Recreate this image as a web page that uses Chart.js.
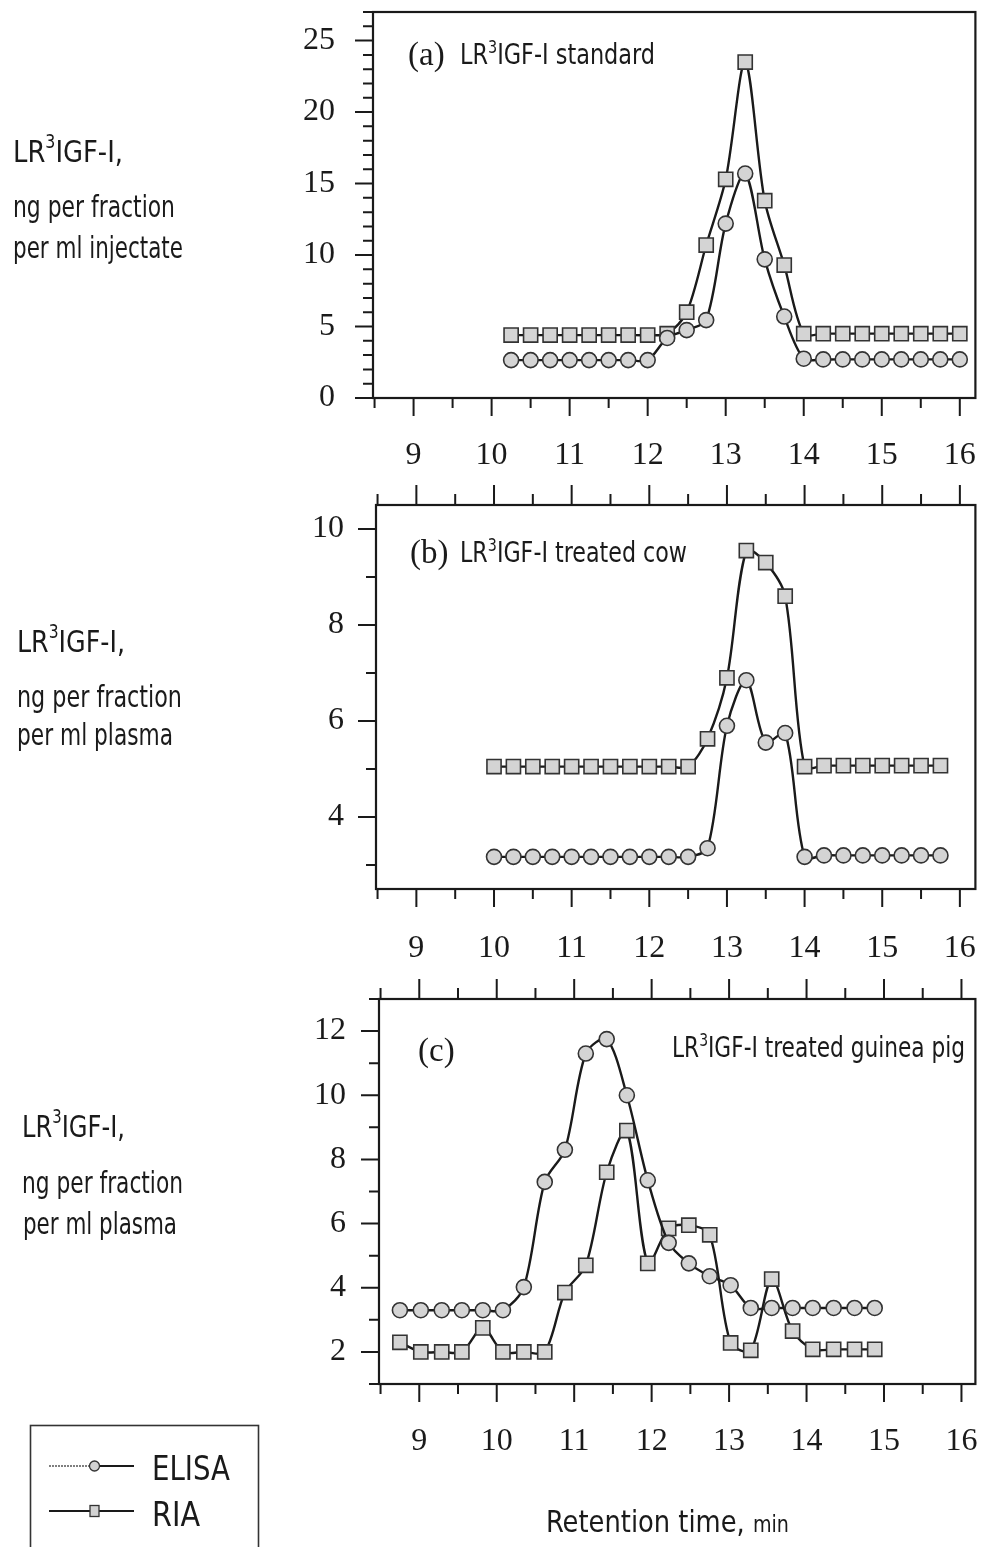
<!DOCTYPE html>
<html>
<head>
<meta charset="utf-8">
<script src="https://cdn.jsdelivr.net/npm/chart.js@4.4.1/dist/chart.umd.min.js"></script>
<style>
  body { margin: 0; background: #fff; }
  #page { position: relative; width: 987px; height: 1547px; overflow: hidden; }
  canvas { position: absolute; left: 200px; }
  svg { position: absolute; left: 0; top: 0; }
  .sans { font-family: "Liberation Sans Narrow", "DejaVu Sans Condensed", sans-serif; fill: #1a1a1a; }
  .serif { font-family: "Liberation Serif", serif; fill: #1a1a1a; }
</style>
</head>
<body>
<div id="page">
  <canvas id="chartA" width="787" height="480" style="top:0"></canvas>
  <canvas id="chartB" width="787" height="480" style="top:480px"></canvas>
  <canvas id="chartC" width="787" height="510" style="top:970px"></canvas>

  <svg width="987" height="1547">
    <!-- y axis titles -->
    <text class="sans" x="13" y="162" font-size="31" textLength="110" lengthAdjust="spacingAndGlyphs">LR<tspan dy="-14" font-size="19">3</tspan><tspan dy="14">IGF-I,</tspan></text>
    <text class="sans" x="13" y="217" font-size="30" textLength="162" lengthAdjust="spacingAndGlyphs">ng per fraction</text>
    <text class="sans" x="13" y="258" font-size="30" textLength="170" lengthAdjust="spacingAndGlyphs">per ml injectate</text>

    <text class="sans" x="17" y="652" font-size="31" textLength="108" lengthAdjust="spacingAndGlyphs">LR<tspan dy="-14" font-size="19">3</tspan><tspan dy="14">IGF-I,</tspan></text>
    <text class="sans" x="17" y="707" font-size="30" textLength="165" lengthAdjust="spacingAndGlyphs">ng per fraction</text>
    <text class="sans" x="17" y="745" font-size="30" textLength="156" lengthAdjust="spacingAndGlyphs">per ml plasma</text>

    <text class="sans" x="22" y="1137" font-size="31" textLength="103" lengthAdjust="spacingAndGlyphs">LR<tspan dy="-14" font-size="19">3</tspan><tspan dy="14">IGF-I,</tspan></text>
    <text class="sans" x="22" y="1193" font-size="30" textLength="161" lengthAdjust="spacingAndGlyphs">ng per fraction</text>
    <text class="sans" x="23" y="1234" font-size="30" textLength="154" lengthAdjust="spacingAndGlyphs">per ml plasma</text>

    <!-- panel tags -->
    <text class="serif" x="408" y="65" font-size="33">(a)</text>
    <text class="sans" x="460" y="64" font-size="28" textLength="195" lengthAdjust="spacingAndGlyphs">LR<tspan dy="-11" font-size="18">3</tspan><tspan dy="11">IGF-I standard</tspan></text>
    <text class="serif" x="410" y="563" font-size="33">(b)</text>
    <text class="sans" x="460" y="562" font-size="28" textLength="227" lengthAdjust="spacingAndGlyphs">LR<tspan dy="-11" font-size="18">3</tspan><tspan dy="11">IGF-I treated cow</tspan></text>
    <text class="serif" x="418" y="1061" font-size="33">(c)</text>
    <text class="sans" x="672" y="1057" font-size="28" textLength="293" lengthAdjust="spacingAndGlyphs">LR<tspan dy="-11" font-size="18">3</tspan><tspan dy="11">IGF-I treated guinea pig</tspan></text>

    <!-- x axis title -->
    <text class="sans" x="546" y="1532" font-size="31" textLength="243" lengthAdjust="spacingAndGlyphs">Retention time, <tspan font-size="23">min</tspan></text>

    <!-- legend -->
    <rect x="30.5" y="1425.5" width="228" height="150" fill="none" stroke="#333" stroke-width="1.6"/>
    <line x1="49" y1="1466" x2="90" y2="1466" stroke="#555" stroke-width="1.4" stroke-dasharray="2 1"/>
    <line x1="99" y1="1466" x2="134" y2="1466" stroke="#1a1a1a" stroke-width="2.2"/>
    <circle cx="94.5" cy="1466" r="5" fill="#d2d2d2" stroke="#333" stroke-width="1.3"/>
    <text class="sans" x="152" y="1480" font-size="34" textLength="78" lengthAdjust="spacingAndGlyphs">ELISA</text>
    <line x1="49" y1="1511" x2="134" y2="1511" stroke="#1a1a1a" stroke-width="2.2"/>
    <rect x="90" y="1505.5" width="9" height="11" fill="#d2d2d2" stroke="#333" stroke-width="1.3"/>
    <text class="sans" x="152" y="1526" font-size="34" textLength="48" lengthAdjust="spacingAndGlyphs">RIA</text>
  </svg>
</div>

<script>
// shared x ticks, retention time in min
const xMajor = [9, 10, 11, 12, 13, 14, 15, 16];
const xMinor = [8.5, 9.5, 10.5, 11.5, 12.5, 13.5, 14.5, 15.5];

// (a) LR3IGF-I standard
const timesA = [10.25, 10.5, 10.75, 11, 11.25, 11.5, 11.75, 12, 12.25, 12.5, 12.75, 13,
                13.25, 13.5, 13.75, 14, 14.25, 14.5, 14.75, 15, 15.25, 15.5, 15.75, 16];
const elisaA = [2.65, 2.65, 2.65, 2.65, 2.65, 2.65, 2.65, 2.65, 4.2, 4.75, 5.45, 12.2,
                15.7, 9.7, 5.7, 2.75, 2.7, 2.7, 2.7, 2.7, 2.7, 2.7, 2.7, 2.7];
const riaA = [4.4, 4.4, 4.4, 4.4, 4.4, 4.4, 4.4, 4.4, 4.5, 6.0, 10.7, 15.3,
              23.5, 13.8, 9.3, 4.5, 4.5, 4.5, 4.5, 4.5, 4.5, 4.5, 4.5, 4.5];
const yMajorA = [0, 5, 10, 15, 20, 25];
const yMinorA = [1, 2, 3, 4, 6, 7, 8, 9, 11, 12, 13, 14, 16, 17, 18, 19, 21, 22, 23, 24, 26, 27];

// (b) treated cow
const timesB = [10, 10.25, 10.5, 10.75, 11, 11.25, 11.5, 11.75, 12, 12.25, 12.5, 12.75,
                13, 13.25, 13.5, 13.75, 14, 14.25, 14.5, 14.75, 15, 15.25, 15.5, 15.75];
const elisaB = [3.17, 3.17, 3.17, 3.17, 3.17, 3.17, 3.17, 3.17, 3.17, 3.17, 3.17, 3.35,
                5.9, 6.85, 5.55, 5.75, 3.17, 3.2, 3.2, 3.2, 3.2, 3.2, 3.2, 3.2];
const riaB = [5.05, 5.05, 5.05, 5.05, 5.05, 5.05, 5.05, 5.05, 5.05, 5.05, 5.05, 5.63,
              6.9, 9.55, 9.3, 8.6, 5.05, 5.07, 5.07, 5.07, 5.07, 5.07, 5.07, 5.07];
const yMajorB = [4, 6, 8, 10];
const yMinorB = [3, 5, 7, 9];

// (c) treated guinea pig
const timesC = [8.75, 9.02, 9.29, 9.55, 9.82, 10.08, 10.35, 10.62, 10.88, 11.15, 11.42, 11.68,
                11.95, 12.22, 12.48, 12.75, 13.02, 13.28, 13.55, 13.82, 14.08, 14.35, 14.62, 14.88];
const elisaC = [3.3, 3.3, 3.3, 3.3, 3.3, 3.3, 4.02, 7.3, 8.3, 11.3, 11.75, 10.0,
                7.35, 5.4, 4.76, 4.36, 4.08, 3.37, 3.37, 3.37, 3.37, 3.37, 3.37, 3.37];
const riaC = [2.3, 2.0, 2.0, 2.0, 2.75, 2.0, 2.0, 2.0, 3.85, 4.7, 7.6, 8.9,
              4.76, 5.85, 5.95, 5.65, 2.28, 2.05, 4.27, 2.65, 2.08, 2.08, 2.08, 2.08];
const yMajorC = [2, 4, 6, 8, 10, 12];
const yMinorC = [1, 3, 5, 7, 9, 11, 13];

const ink = '#1a1a1a';
const markerFill = '#d4d4d4';

// box round the plot area plus outward tick marks (long on whole values, short between)
const frameTicks = {
  id: 'frameTicks',
  afterDraw(chart, args, opts) {
    const { ctx, chartArea: a } = chart;
    const x = chart.scales.x, y = chart.scales.y;
    ctx.save();
    ctx.strokeStyle = ink;
    ctx.lineWidth = 2;
    ctx.beginPath();
    const yTick = (v, len) => {
      const p = y.getPixelForValue(v);
      ctx.moveTo(a.left - len, p);
      ctx.lineTo(a.left, p);
    };
    const xTick = (v, y0, len) => {
      const p = x.getPixelForValue(v);
      ctx.moveTo(p, y0);
      ctx.lineTo(p, y0 + len);
    };
    opts.yMajor.forEach(v => yTick(v, 18));
    opts.yMinor.forEach(v => yTick(v, 10));
    xMajor.forEach(v => xTick(v, a.bottom, 18));
    xMinor.forEach(v => xTick(v, a.bottom, 10));
    if (opts.top) {
      xMajor.forEach(v => xTick(v, a.top, -20));
      xMinor.forEach(v => xTick(v, a.top, -11));
    }
    ctx.stroke();
    ctx.lineWidth = 2.2;
    ctx.strokeRect(a.left, a.top, a.right - a.left, a.bottom - a.top);
    ctx.restore();
  }
};

function drawPanel(id, times, elisa, ria, cfg) {
  const points = vals => times.map((t, i) => ({ x: t, y: vals[i] }));
  return new Chart(document.getElementById(id), {
    type: 'line',
    data: {
      datasets: [
        {
          label: 'ELISA',
          data: points(elisa),
          borderColor: ink,
          backgroundColor: markerFill,
          pointStyle: 'circle',
          pointRadius: 7.5,
          pointBackgroundColor: markerFill,
          pointBorderColor: '#333',
          pointBorderWidth: 1.6
        },
        {
          label: 'RIA',
          data: points(ria),
          borderColor: ink,
          backgroundColor: markerFill,
          pointStyle: 'rect',
          pointRadius: 10,
          pointBackgroundColor: markerFill,
          pointBorderColor: '#333',
          pointBorderWidth: 1.6
        }
      ]
    },
    options: {
      responsive: false,
      animation: false,
      devicePixelRatio: 1,
      layout: { padding: { top: cfg.top, right: cfg.right, left: 0, bottom: 0 } },
      elements: { line: { tension: 0.3, borderWidth: 2.4 } },
      plugins: {
        legend: { display: false },
        tooltip: { enabled: false },
        colors: { enabled: false },
        frameTicks: { yMajor: cfg.yMajor, yMinor: cfg.yMinor, top: cfg.topTicks }
      },
      scales: {
        x: {
          type: 'linear',
          min: cfg.xMin,
          max: cfg.xMax,
          grid: { display: false, drawTicks: false },
          border: { display: false },
          afterBuildTicks: s => { s.ticks = xMajor.map(v => ({ value: v })); },
          afterFit: s => {
            s.height = cfg.xAxisH;
            s.paddingLeft = 0;
            s.paddingRight = 0;
          },
          ticks: {
            padding: cfg.xPad,
            color: ink,
            autoSkip: false,
            maxRotation: 0,
            font: { family: 'Liberation Serif', size: 32 }
          }
        },
        y: {
          min: cfg.yMin,
          max: cfg.yMax,
          grid: { display: false, drawTicks: false },
          border: { display: false },
          afterBuildTicks: s => { s.ticks = cfg.yMajor.map(v => ({ value: v })); },
          afterFit: s => {
            s.width = cfg.left - 200;
            s.paddingTop = 0;
            s.paddingBottom = 0;
          },
          ticks: {
            padding: cfg.yPad,
            color: ink,
            font: { family: 'Liberation Serif', size: 32 }
          }
        }
      }
    },
    plugins: [frameTicks]
  });
}

drawPanel('chartA', timesA, elisaA, riaA, {
  left: 373, top: 12, right: 11, xAxisH: 82, xPad: 38, yPad: 38,
  xMin: 8.48, xMax: 16.2, yMin: 0, yMax: 27,
  yMajor: yMajorA, yMinor: yMinorA, topTicks: false
});

drawPanel('chartB', timesB, elisaB, riaB, {
  left: 376, top: 25, right: 10, xAxisH: 71, xPad: 40, yPad: 32,
  xMin: 8.48, xMax: 16.2, yMin: 2.5, yMax: 10.5,
  yMajor: yMajorB, yMinor: yMinorB, topTicks: true
});

drawPanel('chartC', timesC, elisaC, riaC, {
  left: 379, top: 29, right: 10, xAxisH: 96, xPad: 38, yPad: 33,
  xMin: 8.48, xMax: 16.18, yMin: 1, yMax: 13,
  yMajor: yMajorC, yMinor: yMinorC, topTicks: true
});
</script>
</body>
</html>
